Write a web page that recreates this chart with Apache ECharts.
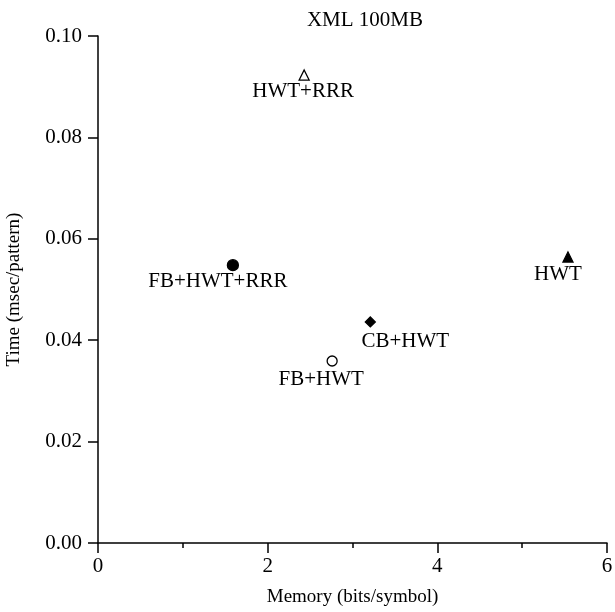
<!DOCTYPE html>
<html>
<head>
<meta charset="utf-8">
<script src="https://cdn.jsdelivr.net/npm/echarts@6/dist/echarts.min.js"></script>
<style>
html, body { margin: 0; padding: 0; background: #fff; }
#main { width: 615px; height: 612px; }
</style>
</head>
<body>
<div id="main"></div>
<script>
var chartDom = document.getElementById('main');
var myChart = echarts.init(chartDom);
var option;

// one point per method
var methods = ['HWT+RRR', 'FB+HWT+RRR', 'HWT', 'CB+HWT', 'FB+HWT'];
var memory = [2.43, 1.59, 5.54, 3.21, 2.76];
var time = [0.0923, 0.0548, 0.0564, 0.0436, 0.0359];
var symbols = ['triangle', 'circle', 'triangle', 'diamond', 'circle'];
var filled = [false, true, true, true, false];
var sizes = [10, 11, 10, 10, 10];
var labelOffsets = [[-1, 16], [-15, 16.5], [-10, 17], [35, 19.5], [-11, 18]];

var font = '"Liberation Serif", "DejaVu Serif", serif';

var series = methods.map(function (name, i) {
    return {
        name: name,
        type: 'scatter',
        symbol: symbols[i],
        symbolSize: sizes[i],
        data: [[memory[i], time[i]]],
        itemStyle: {
            color: filled[i] ? '#000' : '#fff',
            borderColor: '#000',
            borderWidth: 1.3,
            opacity: 1
        },
        label: {
            show: true,
            position: 'inside',
            offset: labelOffsets[i],
            formatter: name,
            color: '#000',
            opacity: 1,
            fontFamily: font,
            fontSize: 21
        },
        emphasis: { disabled: true }
    };
});

option = {
    animation: false,
    backgroundColor: '#fff',
    title: {
        text: 'XML 100MB',
        left: 360,
        textAlign: 'center',
        top: 5,
        textStyle: { fontFamily: font, fontSize: 21, fontWeight: 'normal', color: '#000' }
    },
    grid: { left: 98, right: 8, top: 36, bottom: 69, outerBoundsMode: 'none', containLabel: false },
    xAxis: {
        type: 'value',
        min: 0,
        max: 6,
        interval: 2,
        name: 'Memory (bits/symbol)',
        nameLocation: 'middle',
        nameGap: 45,
        nameTextStyle: { fontFamily: font, fontSize: 19, color: '#000' },
        axisLine: { show: true, lineStyle: { color: '#000', width: 1.5 } },
        axisTick: { show: true, length: 10, lineStyle: { color: '#000', width: 1.5 } },
        minorTick: { show: true, splitNumber: 2, length: 5, lineStyle: { color: '#000', width: 1.5 } },
        axisLabel: { fontFamily: font, fontSize: 21, color: '#000', margin: 13 },
        splitLine: { show: false }
    },
    yAxis: {
        type: 'value',
        min: 0,
        max: 0.1,
        interval: 0.02,
        name: 'Time (msec/pattern)',
        nameLocation: 'middle',
        nameGap: 74,
        nameTextStyle: { fontFamily: font, fontSize: 19, color: '#000' },
        axisLine: { show: true, lineStyle: { color: '#000', width: 1.5 } },
        axisTick: { show: true, length: 10, lineStyle: { color: '#000', width: 1.5 } },
        axisLabel: {
            fontFamily: font, fontSize: 21, color: '#000', margin: 16,
            formatter: function (v) { return v.toFixed(2); }
        },
        splitLine: { show: false }
    },
    series: series
};

option && myChart.setOption(option);
</script>
</body>
</html>
